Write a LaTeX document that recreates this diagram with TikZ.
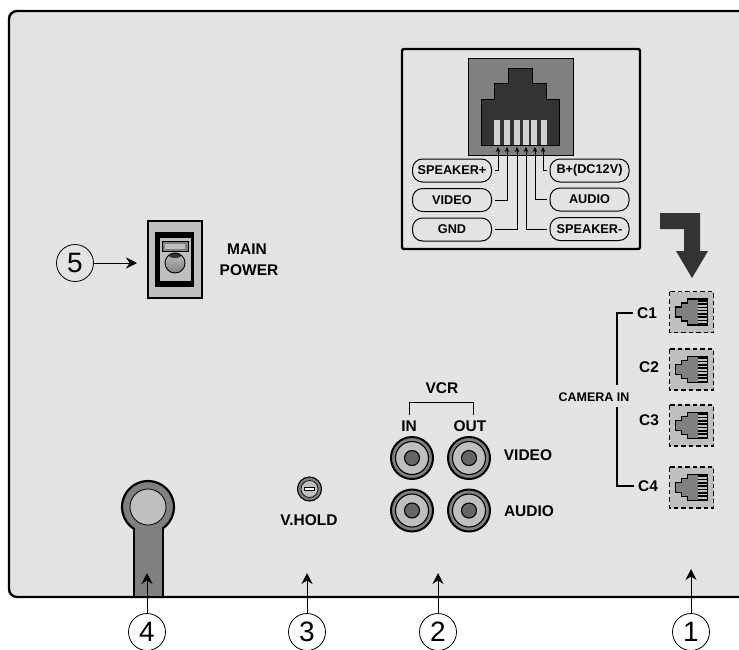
\documentclass[tikz,border=0pt]{standalone}
\usepackage{fontspec}
\setmainfont{Liberation Sans}
\usetikzlibrary{arrows.meta}
\definecolor{panel}{gray}{0.89}
\definecolor{dk}{gray}{0.2}
\definecolor{md}{gray}{0.5}
\definecolor{lt}{gray}{0.75}
\definecolor{contact}{gray}{0.82}
\tikzset{
  lbl/.style={font=\bfseries\fontsize{15.5}{17}\selectfont,inner sep=0pt},
  sml/.style={font=\bfseries\fontsize{12.5}{14}\selectfont,inner sep=0pt},
  pinbox/.style={draw=black,line width=1pt,rounded corners=10pt,minimum width=79pt,minimum height=23pt,inner sep=0pt,font=\bfseries\fontsize{12.7}{14}\selectfont},
  num/.style={draw=black,circle,line width=0.8pt,minimum size=37pt,inner sep=0pt,font=\fontsize{28}{30}\selectfont},
  pinline/.style={line width=1pt,draw=black,-{Stealth[length=5pt,width=4.5pt]}},
  call/.style={line width=1pt,draw=black,-{Stealth[length=11pt,width=11pt]}}
}
\newcommand{\camport}[2]{%
  \begin{scope}[shift={(#1,#2)}]
    \fill[lt] (-22,-20.5) rectangle (22,20.5);
    \draw[draw=black,line width=1.4pt,dash pattern=on 4.5pt off 3pt] (-22,-20.5) rectangle (22,20.5);
    \draw[draw=black,line width=1.3pt,fill=md] (16,-13) -- (-4,-13) -- (-4,-9) -- (-10,-9) -- (-10,-5) -- (-16,-5) -- (-16,5) -- (-10,5) -- (-10,9) -- (-4,9) -- (-4,13) -- (16,13) -- cycle;
    \fill[black] (6,-13) rectangle (16,13);
    \foreach \yy in {-10.5,-7.2,-3.9,-0.6,2.7,6,9.3} \fill[lt] (6,\yy) rectangle (15,\yy+1.7);
  \end{scope}}
\newcommand{\rcajack}[2]{%
  \begin{scope}[shift={(#1,#2)}]
    \draw[draw=black,line width=2pt,fill=md] (0,0) circle (21);
    \draw[draw=black,line width=1.1pt,fill=lt] (0,0) circle (16.5);
    \draw[draw=black,line width=1.1pt,fill=md!80!black] (0,0) circle (7.5);
  \end{scope}}
\begin{document}
\begin{tikzpicture}[x=1pt,y=-1pt]
\useasboundingbox (0,0) rectangle (739,649);
\fill[white] (0,0) rectangle (739,649);
% panel
\draw[fill=panel,line width=2.4pt,draw=black,rounded corners=8pt] (745,11) -- (9,11) -- (9,597) -- (745,597);
% inset box
\draw[fill=panel,line width=2.4pt,draw=black,rounded corners=2pt] (402,49) rectangle (640,249);
% RJ jack
\draw[fill=md,line width=0.8pt] (468,58) rectangle (573,155);
\draw[fill=dk,line width=0.8pt] (481,145) -- (481,99) -- (494,99) -- (494,83) -- (508,83) -- (508,68) -- (532,68) -- (532,83) -- (546,83) -- (546,99) -- (559,99) -- (559,145) -- cycle;
\foreach \xx in {494,504,514,523,531,541} \fill[contact] (\xx,120) rectangle (\xx+6,145);
% pins
\node[pinbox] (sp) at (452,170.5) {SPEAKER+};
\node[pinbox] (vi) at (452,200) {VIDEO};
\node[pinbox] (gn) at (452,229.5) {GND};
\node[pinbox] (bp) at (589.5,170.5) {B+(DC12V)};
\node[pinbox] (au) at (589.5,199.5) {AUDIO};
\node[pinbox] (sm) at (589.5,229) {SPEAKER-};
\coordinate (p1) at (498,147); \coordinate (p2) at (507,147); \coordinate (p3) at (517,147);
\coordinate (p4) at (526,147); \coordinate (p5) at (535,147); \coordinate (p6) at (543,147);
\draw[pinline] ([xshift=3pt]sp.east) -| (p1);
\draw[pinline] ([xshift=3pt]vi.east) -| (p2);
\draw[pinline] ([xshift=3pt]gn.east) -| (p3);
\draw[pinline] ([xshift=-3pt]sm.west) -| (p4);
\draw[pinline] ([xshift=-3pt]au.west) -| (p5);
\draw[pinline] ([xshift=-3pt]bp.west) -| (p6);
% big arrow
\fill[dk] (660,213) -- (700,213) -- (700,251) -- (708,251) -- (692,278) -- (676,251) -- (684,251) -- (684,229) -- (660,229) -- cycle;
% camera ports
\camport{691.5}{312}\camport{691.5}{369.5}\camport{691.5}{425.5}\camport{691.5}{487.5}
\node[lbl] (c1) at (647,313) {C1};
\node[lbl] (c2) at (649,367) {C2};
\node[lbl] (c3) at (649,420) {C3};
\node[lbl] (c4) at (648,486) {C4};
\node[sml] (cam) at (594,397) {CAMERA IN};
\coordinate (ct) at (617,385);
\coordinate (cb) at (617,407);
\draw[line width=1.2pt] (ct) |- ([xshift=-4pt]c1.west);
\draw[line width=1.2pt] (cb) |- ([xshift=-4pt]c4.west);
% VCR
\node[lbl] (vcr) at (442,388) {VCR};
\node[lbl] (in) at (409,426) {IN};
\node[lbl] (out) at (470,426) {OUT};
\draw[line width=0.9pt] (409,415) -- (409,402) -- (473,402) -- (473,415);
\rcajack{412}{458}\rcajack{469}{458}\rcajack{412}{510.5}\rcajack{469}{510.5}
\node[lbl] (vid) at (528,455) {VIDEO};
\node[lbl] (aud) at (529,511) {AUDIO};
% power switch
\draw[fill=lt,line width=1.4pt] (148,221) rectangle (202,298);
\fill[black] (155,232) rectangle (194,287);
\fill[lt] (160,238) rectangle (191,281);
\draw[fill=md,line width=0.7pt] (162,241) rectangle (188,251);
\fill[lt] (165,243.5) rectangle (185,248.5);
\shade[top color=lt,middle color=white,bottom color=md] (175,263) circle (10);
\begin{scope}
  \clip (175,263) circle (10);
  \fill[dk] (175,254.5) ellipse (7 and 3.5);
\end{scope}
\draw[line width=0.9pt] (175,263) circle (10);
\node[lbl] (mp1) at (247,249) {MAIN};
\node[lbl] (mp2) at (249,270) {POWER};
\node[num] (n5) at (75,263) {5};
\coordinate (sw) at (137,263);
\draw[call] (n5) -- (sw);
% cable
\draw[fill=md,line width=2.2pt] (148,507) circle (26);
\draw[fill=md,line width=2.2pt] (134,530) rectangle (163,597);
\fill[md] (135,522) rectangle (162,596);
\draw[fill=lt,line width=0.8pt] (148,507) circle (18);
% vhold
\draw[fill=md,line width=1.1pt] (309.5,489) circle (12);
\draw[fill=lt,line width=0.7pt] (309.5,489) circle (8.5);
\draw[fill=white,line width=0.6pt] (304.5,487.5) rectangle (314.5,490.5);
\node[lbl] (vh) at (309,520) {V.HOLD};
% callouts
\node[num] (n4) at (147,632) {4};
\node[num] (n3) at (307,632) {3};
\node[num] (n2) at (438,632) {2};
\node[num] (n1) at (691,632) {1};
\coordinate (t4) at (147,573); \coordinate (t3) at (307,573); \coordinate (t2) at (438,573); \coordinate (t1) at (691,569);
\draw[call] (n4) -- (t4);
\draw[call] (n3) -- (t3);
\draw[call] (n2) -- (t2);
\draw[call] (n1) -- (t1);
\end{tikzpicture}
\end{document}
